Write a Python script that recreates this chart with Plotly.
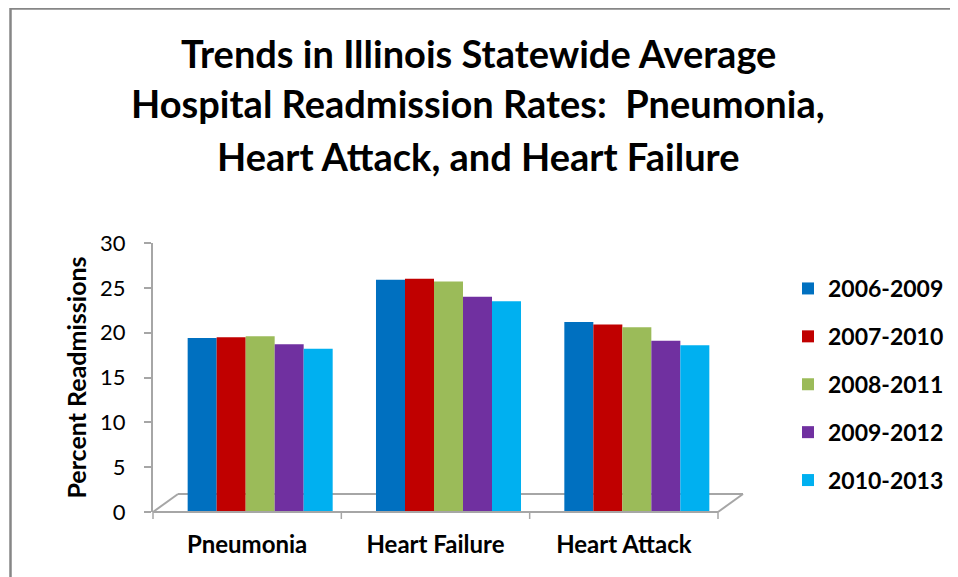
import plotly.graph_objects as go

categories = ["Pneumonia", "Heart Failure", "Heart Attack"]
series_names = ["2006-2009", "2007-2010", "2008-2011", "2009-2012", "2010-2013"]
values_2006_2009 = [19.4, 25.9, 21.2]
values_2007_2010 = [19.5, 26.0, 20.9]
values_2008_2011 = [19.6, 25.7, 20.6]
values_2009_2012 = [18.7, 24.0, 19.1]
values_2010_2013 = [18.2, 23.5, 18.6]
series_values = [values_2006_2009, values_2007_2010, values_2008_2011,
                 values_2009_2012, values_2010_2013]
colors = ["#0070C0", "#C00000", "#9BBB59", "#7030A0", "#00B0F0"]
y_ticks = [0, 5, 10, 15, 20, 25, 30]

OFF = 8  # default page body margin
W, H = 958 - OFF, 577 - OFF
# plot area in page pixels
PX0, PX1, PY0, PY1 = 153, 718, 243, 512
L, R, T, B = PX0 - OFF, W - (PX1 - OFF), PY0 - OFF, H - (PY1 - OFF)
PW, PH = PX1 - PX0, PY1 - PY0


def px(x):  # page x -> paper
    return (x - PX0) / PW


def py(y):  # page y -> paper
    return (PY1 - y) / PH


FONT = "Lato"

fig = go.Figure()
for name, vals, col in zip(series_names, series_values, colors):
    fig.add_trace(go.Bar(
        x=categories, y=vals, name=name, legendgroup=name,
        marker=dict(color=col, line=dict(width=0)),
    ))

shift = 13 / (PW / 3)
fig.update_layout(
    width=W, height=H,
    margin=dict(l=L, r=R, t=T, b=B, autoexpand=False),
    paper_bgcolor="white", plot_bgcolor="white",
    barmode="group", bargap=0.23, bargroupgap=0.0,
    font=dict(family=FONT, color="black"),
    showlegend=True,
    legend=dict(x=px(788), y=py(267), xanchor="left", yanchor="top",
                font=dict(size=23, family=FONT, weight="bold"),
                tracegroupgap=15, itemwidth=30, bgcolor="rgba(0,0,0,0)"),
    xaxis=dict(range=[-0.5 - shift, 2.5 - shift], showline=False,
               showgrid=False, ticks="", ticklabelshift=-13,
               tickfont=dict(size=24, family=FONT, weight="bold"),
               ticklabelstandoff=16),
    yaxis=dict(range=[0, 30], tickvals=y_ticks, showgrid=False,
               showline=True, linecolor="#A6A6A6", linewidth=2,
               ticks="outside", ticklen=7, tickcolor="#A6A6A6",
               tickwidth=1.5, zeroline=False, ticklabelstandoff=14,
               tickfont=dict(size=22, family=FONT),
               title=dict(text="Percent Readmissions", standoff=6,
                          font=dict(size=25, family=FONT, weight="bold"))),
)

# 3D floor
dx, dy = 25, 18
floor = "#A6A6A6"
fig.add_shape(type="line", xref="paper", yref="paper",
              x0=px(PX0), y0=py(PY1), x1=px(PX1), y1=py(PY1),
              line=dict(color=floor, width=2))
fig.add_shape(type="line", xref="paper", yref="paper",
              x0=px(PX0 + dx), y0=py(PY1 - dy), x1=px(PX1 + dx), y1=py(PY1 - dy),
              line=dict(color=floor, width=2), layer="below")
fig.add_shape(type="line", xref="paper", yref="paper",
              x0=px(PX0), y0=py(PY1), x1=px(PX0 + dx), y1=py(PY1 - dy),
              line=dict(color=floor, width=2), layer="below")
fig.add_shape(type="line", xref="paper", yref="paper",
              x0=px(PX1), y0=py(PY1), x1=px(PX1 + dx), y1=py(PY1 - dy),
              line=dict(color=floor, width=2))
for i in range(4):
    xx = PX0 + i * PW / 3
    fig.add_shape(type="line", xref="paper", yref="paper",
                  x0=px(xx), y0=py(PY1), x1=px(xx), y1=py(PY1 + 7),
                  line=dict(color=floor, width=1.5))

# chart border
fig.add_shape(type="rect", xref="paper", yref="paper",
              x0=px(10.5), y0=py(8.5), x1=px(980), y1=py(600),
              line=dict(color="#868686", width=2.5))

title_lines = ["Trends in Illinois Statewide Average",
               "Hospital Readmission Rates:  Pneumonia,",
               "Heart Attack, and Heart Failure"]
title_y = [53, 103, 156]
for line, ty in zip(title_lines, title_y):
    fig.add_annotation(text=line, xref="paper", yref="paper",
                       x=px(478), y=py(ty), xanchor="center",
                       yanchor="middle", showarrow=False,
                       font=dict(size=38, family=FONT, weight="bold", color="black"))

fig.write_html("out.html")
